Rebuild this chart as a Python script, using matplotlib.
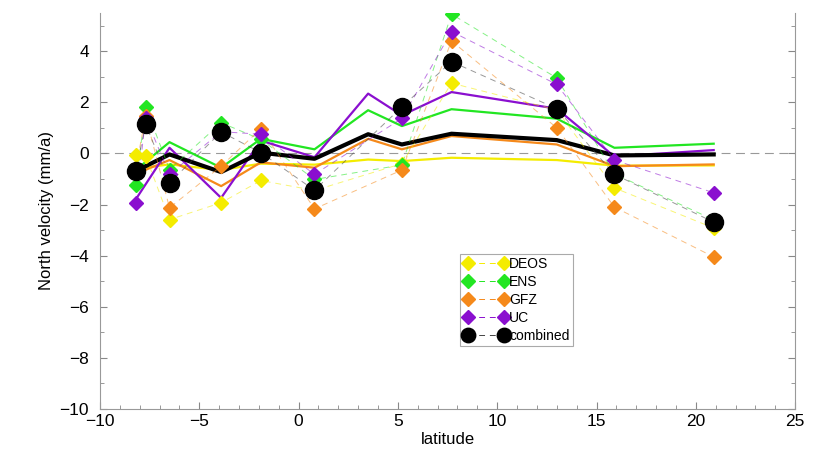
import numpy as np
import matplotlib
matplotlib.use('Agg')
import matplotlib.pyplot as plt
from matplotlib.ticker import MultipleLocator

plt.rcParams['font.family'] = ['Liberation Sans', 'DejaVu Sans']

# site latitudes (markers) and per-centre north velocities (mm/a)
lat_sites = [-8.2, -7.7, -6.5, -3.9, -1.9, 0.8, 5.2, 7.7, 13.0, 15.9, 20.9]
deos = [-0.05, -0.1, -2.59, -1.93, -1.06, -1.45, -0.4, 2.75, 1.7, -1.35, -2.92]
ens = [-1.25, 1.82, -0.63, 1.2, 0.55, -1.02, -0.45, 5.45, 2.95, -0.8, -2.6]
gfz = [-0.6, 1.46, -2.13, -0.5, 0.97, -2.17, -0.65, 4.4, 1.0, -2.1, -4.05]
uc = [-1.93, 1.4, -0.82, 0.85, 0.75, -0.82, 1.37, 4.77, 2.7, -0.26, -1.54]
combined = [-0.69, 1.14, -1.15, 0.84, 0.03, -1.44, 1.82, 3.59, 1.75, -0.82, -2.69]

# smoothed profiles (solid lines)
lat_smooth = [-8.2, -6.5, -3.9, -1.9, 0.8, 3.5, 5.2, 7.7, 13.0, 15.9, 20.9]
deos_s = [-0.6, -0.43, -0.65, -0.4, -0.44, -0.24, -0.3, -0.17, -0.26, -0.48, -0.47]
ens_s = [-0.65, 0.44, -0.56, 0.57, 0.16, 1.69, 1.07, 1.73, 1.36, 0.22, 0.38]
gfz_s = [-0.8, -0.26, -1.28, -0.35, -0.56, 0.57, 0.16, 0.68, 0.35, -0.5, -0.43]
uc_s = [-1.8, 0.22, -1.74, 0.5, -0.15, 2.34, 1.49, 2.4, 1.75, -0.12, 0.13]
comb_s = [-0.69, -0.04, -0.73, 0.03, -0.21, 0.75, 0.35, 0.77, 0.52, -0.08, -0.04]

c_yel = '#f4ec00'
c_grn = '#22e622'
c_org = '#f5891a'
c_pur = '#8a0fcf'

fig = plt.figure(figsize=(8.13, 4.59), dpi=100)
ax = fig.add_axes([0.123, 0.109, 0.855, 0.863])

ax.axhline(0, color='#999999', lw=0.8, ls=(0, (8, 5)), zorder=1)

# solid smoothed lines
ax.plot(lat_smooth, deos_s, color=c_yel, lw=1.6, zorder=2)
ax.plot(lat_smooth, gfz_s, color=c_org, lw=1.6, zorder=2)
ax.plot(lat_smooth, ens_s, color=c_grn, lw=1.6, zorder=2)
ax.plot(lat_smooth, uc_s, color=c_pur, lw=1.6, zorder=2)
ax.plot(lat_smooth, comb_s, color='black', lw=3.0, zorder=3)

# site values: faint dashed connectors, then solid markers on top
dash = (0, (6, 5))
series = [(deos, c_yel, 'D', 7, 'DEOS'),
          (ens, c_grn, 'D', 7, 'ENS'),
          (gfz, c_org, 'D', 7, 'GFZ'),
          (uc, c_pur, 'D', 7, 'UC'),
          (combined, 'black', 'o', 13, 'combined')]
handles = []
for vals, col, mk, ms, name in series:
    lcol = '#444444' if col == 'black' else col
    ax.plot(lat_sites, vals, color=lcol, ls=dash, lw=0.7, alpha=0.55, zorder=4)
    ax.plot(lat_sites, vals, ls='none', marker=mk, ms=ms, mec=col, mfc=col, zorder=5)
    h, = ax.plot([], [], color=lcol, ls=dash, lw=0.7, marker=mk, ms=ms * (1.05 if mk == 'D' else 0.8),
                 mec=col, mfc=col, label=name)
    handles.append(h)

ax.set_xlim(-10, 25)
ax.set_ylim(-10, 5.5)
ax.xaxis.set_major_locator(MultipleLocator(5))
ax.xaxis.set_minor_locator(MultipleLocator(1))
ax.yaxis.set_major_locator(MultipleLocator(2))
ax.yaxis.set_minor_locator(MultipleLocator(1))
ax.set_yticks(np.arange(-10, 5, 2))
ax.tick_params(which='both', direction='in', left=True, right=True, bottom=True, top=False,
               colors='#888888', labelcolor='black', labelsize=12.5)
ax.tick_params(which='major', length=5)
ax.tick_params(which='minor', length=3)
ax.tick_params(axis='y', pad=8)
for s in ['left', 'right', 'bottom']:
    ax.spines[s].set_color('#999999')
ax.spines['top'].set_visible(False)

ax.set_xlabel('latitude', fontsize=12, labelpad=2)
ax.set_ylabel('North velocity (mm/a)', fontsize=12, labelpad=4)

leg = ax.legend(handles=handles, loc='upper left', bbox_to_anchor=(0.518, 0.392), numpoints=2,
                fontsize=10, handlelength=3.2, handletextpad=0.1, borderpad=0.25,
                labelspacing=0.28, fancybox=False, framealpha=1, borderaxespad=0)
leg.get_frame().set_edgecolor('#aaaaaa')
leg.get_frame().set_linewidth(0.8)

plt.savefig('out.png', dpi=100)
